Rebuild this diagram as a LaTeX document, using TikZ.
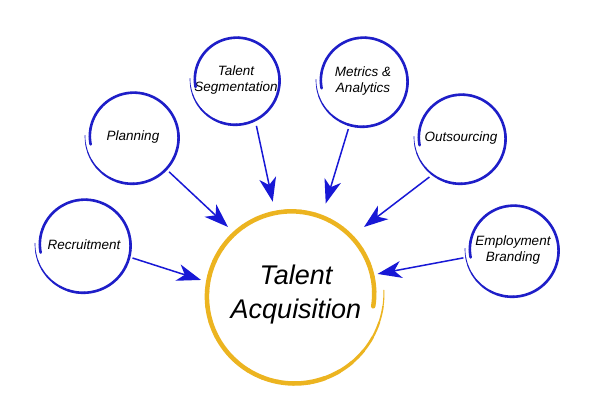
\documentclass[tikz,border=0pt]{standalone}
\usepackage{fontspec}
\setmainfont{Liberation Sans}
\usetikzlibrary{arrows.meta,positioning,calc}

\definecolor{ringblue}{RGB}{30,30,200}
\definecolor{arrowblue}{RGB}{24,24,214}
\definecolor{ringgold}{RGB}{236,180,32}

% hand drawn ring round a node: #1 centre, #2 start radius, #3 end radius,
% #4 start angle, #5 end angle, #6 colour, #7 full width
\newcommand{\sketchring}[7]{%
  \foreach \k in {0,...,35}{%
    \pgfmathsetmacro{\ta}{#4+(#5-#4)*\k/36}%
    \pgfmathsetmacro{\tb}{#4+(#5-#4)*(\k+1)/36}%
    \pgfmathsetmacro{\lw}{#7*(0.25+0.75*min(1,\k/7))}%
    \draw[#6, line width=\lw pt, line cap=round, shift={(#1)}]
      plot[domain=\ta:\tb, samples=5] (\x:{#2+(#3-#2)*(\x-#4)/(#5-#4)});
  }%
}

\begin{document}
\begin{tikzpicture}[
    x = 1pt, y = -1pt, % pixel grid, y downwards
    topic/.style = {
      circle,
      minimum size = 100pt,
      inner sep = 0pt,
      align = center,
      font = \fontsize{13.5}{16.5}\selectfont\itshape
    },
    hub/.style = {
      circle,
      minimum size = 192pt,
      inner sep = 0pt,
      align = center,
      font = \fontsize{27}{34}\selectfont\itshape
    },
    conn/.style = {
      draw = arrowblue,
      line width = 1.5pt,
      -{Stealth[length=24pt, width=17pt, inset=7pt]}
    }
  ]

  \fill[white] (0,0) rectangle (600,415);
  \useasboundingbox (0,0) rectangle (600,415);

  % centre
  \node[hub] (ta) [at={(296,295)}] {Talent\\Acquisition};
  \coordinate (tac) at ([xshift=-3pt]ta.center);

  % topics
  \node[topic] (rec) [at={(84,245)}] {Recruitment};
  \node[topic] (plan) [at={(133,137)}] {Planning};
  \node[topic] (seg) [at={(236,80)}] {Talent\\Segmentation};
  \node[topic] (met) [at={(363,81)}] {Metrics \&\\Analytics};
  \node[topic] (out) [at={(461,138)}] {Outsourcing};
  \node[topic] (emp) [at={(513,250)}] {Employment\\Branding};

  % rings
  \sketchring{tac}{91}{81}{-3}{368}{ringgold}{4.5}
  \sketchring{rec}{49}{44}{182}{-190}{ringblue}{2.6}
  \sketchring{plan}{48}{43}{182}{-190}{ringblue}{2.6}
  \sketchring{seg}{46}{41}{182}{-190}{ringblue}{2.6}
  \sketchring{met}{47}{42}{182}{-190}{ringblue}{2.6}
  \sketchring{out}{47}{42}{182}{-190}{ringblue}{2.6}
  \sketchring{emp}{48}{43}{182}{-190}{ringblue}{2.6}

  % arrows
  \draw[conn] (rec.345) -- (ta.171);
  \draw[conn] (plan.316) -- (ta.135);
  \draw[conn] (seg.294) -- (ta.104);
  \draw[conn] (met.253) -- (ta.72);
  \draw[conn] (out.231) -- (ta.45);
  \draw[conn, shorten >= -12pt] (emp.189) -- (ta.14);
\end{tikzpicture}
\end{document}
